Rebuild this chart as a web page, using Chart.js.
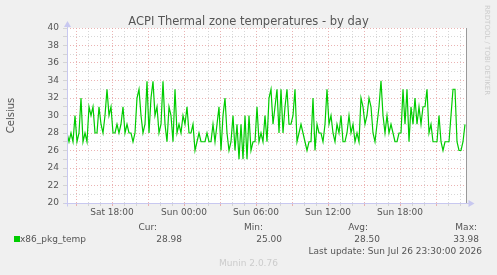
<!DOCTYPE html>
<html>
<head>
<meta charset="utf-8">
<script src="https://cdn.jsdelivr.net/npm/chart.js@4.4.1/dist/chart.umd.min.js"></script>
<style>
  html, body { margin: 0; padding: 0; background: #f0f0f0; }
  #wrap { position: relative; width: 497px; height: 275px; overflow: hidden; }
  #wrap canvas { position: absolute; left: 0; top: 0; }
  .t { position: absolute; font: 9px "DejaVu Sans", sans-serif; line-height: 11px; color: #555; white-space: nowrap; }
  .r { text-align: right; }
  .faint { color: #ccc; }
  #title { position: absolute; left: 0; width: 497px; top: 14px; text-align: center; font: 11.5px "DejaVu Sans", sans-serif; line-height: 14px; color: #555; }
  #swatch { position: absolute; left: 14px; top: 236px; width: 6px; height: 6px; background: #00cc00; }
  #rrd { position: absolute; left: 483px; top: 5px; font: 7px "DejaVu Sans", sans-serif; color: #ccc; writing-mode: vertical-rl; white-space: nowrap; }
</style>
</head>
<body>
<div id="wrap">
  <canvas id="mainChart" width="497" height="275"></canvas>
  <div id="title">ACPI Thermal zone temperatures - by day</div>
  <div id="rrd">RRDTOOL / TOBI OETIKER</div>
  <div class="t r" style="right:340px; top:221.5px;">Cur:</div>
  <div class="t r" style="right:234px; top:221.5px;">Min:</div>
  <div class="t r" style="right:129px; top:221.5px;">Avg:</div>
  <div class="t r" style="right:20px; top:221.5px;">Max:</div>
  <div id="swatch"></div>
  <div class="t" style="left:20px; top:233.5px;">x86_pkg_temp</div>
  <div class="t r" style="right:315px; top:233.5px;">28.98</div>
  <div class="t r" style="right:215px; top:233.5px;">25.00</div>
  <div class="t r" style="right:117px; top:233.5px;">28.50</div>
  <div class="t r" style="right:18px; top:233.5px;">33.98</div>
  <div class="t r" style="right:15px; top:245.5px;">Last update: Sun Jul 26 23:30:00 2026</div>
  <div class="t faint" style="left:0; width:497px; text-align:center; top:257.5px;">Munin 2.0.76</div>
</div>
<script>
// Data: x86_pkg_temp, one reading every 10 minutes from Sat 14:15
const startHour = 14.25;   // hours since Sat 00:00
const stepMinutes = 10;
const tempValues = [
  28, 27, 28, 27, 30, 27, 28, 32, 27, 28,
  27, 31, 30, 31, 28, 28, 31, 29, 28, 30,
  33, 30, 31, 28, 28, 29, 28, 29, 31, 28,
  29, 28, 28, 27, 28, 32, 33, 30, 28, 29,
  33.9, 28, 32, 33.9, 30, 31, 28, 29, 33.9, 29,
  27, 31, 30, 27, 33, 28, 29, 28, 30, 29,
  31, 28, 28, 29, 26, 27, 28, 27, 27, 27,
  28, 27, 27, 29, 27, 29, 31, 26, 30, 32,
  28, 26, 27, 30, 26, 29, 25, 29, 25, 30,
  25, 30, 26, 27, 27, 31, 27, 28, 27, 30,
  27, 32, 33, 29, 31, 33, 28, 33, 28, 31,
  33, 29, 29, 30, 33, 27, 28, 29, 28, 27,
  26, 27, 27, 32, 26, 29, 28, 28, 27, 29,
  33, 29, 30, 28, 27, 29, 28, 30, 27, 27,
  28, 30, 28, 29, 27, 28, 27, 32, 31, 29,
  30, 32, 31, 28, 27, 29, 31, 33.98, 30, 28,
  30, 28, 29, 28, 27, 27, 28, 28, 33, 29,
  33, 27, 31, 29, 32, 29, 31, 29, 31, 31,
  33, 28, 29, 27, 27, 27, 30, 27, 26, 27,
  27, 27, 30, 33, 33, 27, 26, 26, 27, 28.98
];

// Axis ranges and labels
const xMinHour = 14.25;
const xMaxHour = 47.5833;
const xLabelHours = [18, 24, 30, 36, 42];
const xLabels = ['Sat 18:00', 'Sun 00:00', 'Sun 06:00', 'Sun 12:00', 'Sun 18:00'];
const yMin = 20;
const yMax = 40;

const points = tempValues.map((v, i) => ({ x: startHour + i * stepMinutes / 60, y: v }));

const gridHours = [];
for (let h = Math.ceil(xMinHour); h <= Math.floor(xMaxHour); h++) gridHours.push(h);
const gridTemps = [];
for (let v = yMin; v <= yMax; v++) gridTemps.push(v);

const MAJOR = 'rgba(230, 160, 160, 0.8)';
const MINOR = 'rgba(205, 205, 205, 0.8)';
const AXIS = '#c8c8f0';
const FONT = '"DejaVu Sans", sans-serif';

// Plot background, axis arrows and frame
const muninFrame = {
  id: 'muninFrame',
  beforeDraw(chart) {
    const { ctx, chartArea: a } = chart;
    ctx.save();
    ctx.fillStyle = '#fff';
    ctx.fillRect(a.left, a.top, a.right - a.left, a.bottom - a.top);
    ctx.restore();
  },
  afterDatasetsDraw(chart) {
    const { ctx, chartArea: a } = chart;
    const l = Math.round(a.left) + 0.5;
    const b = Math.round(a.bottom) + 0.5;
    const r = Math.round(a.right) - 0.5;
    ctx.save();
    ctx.lineWidth = 1;
    ctx.strokeStyle = '#999';
    ctx.beginPath();
    ctx.moveTo(r, a.top);
    ctx.lineTo(r, a.bottom);
    ctx.stroke();

    ctx.strokeStyle = AXIS;
    ctx.beginPath();
    ctx.moveTo(l, b + 3);
    ctx.lineTo(l, a.top - 2);
    ctx.moveTo(l - 3, b);
    ctx.lineTo(r + 3, b);
    ctx.stroke();

    ctx.fillStyle = AXIS;
    ctx.beginPath();
    ctx.moveTo(l, a.top - 7);
    ctx.lineTo(l - 3.5, a.top - 1);
    ctx.lineTo(l + 3.5, a.top - 1);
    ctx.closePath();
    ctx.fill();
    ctx.beginPath();
    ctx.moveTo(r + 8, b);
    ctx.lineTo(r + 2, b - 3.5);
    ctx.lineTo(r + 2, b + 3.5);
    ctx.closePath();
    ctx.fill();
    ctx.restore();
  }
};

const ctx = document.getElementById('mainChart').getContext('2d');
const chart = new Chart(ctx, {
  type: 'line',
  data: {
    datasets: [{
      label: 'x86_pkg_temp',
      data: points,
      borderColor: '#00cc00',
      borderWidth: 1.2,
      pointRadius: 0,
      tension: 0,
      fill: false
    }]
  },
  options: {
    responsive: false,
    animation: false,
    events: [],
    layout: { padding: { left: 0, right: 30, top: 28, bottom: 52 } },
    plugins: {
      legend: { display: false },
      tooltip: { enabled: false },
      title: { display: false }
    },
    scales: {
      x: {
        type: 'linear',
        min: xMinHour,
        max: xMaxHour,
        afterBuildTicks: s => { s.ticks = gridHours.map(v => ({ value: v })); },
        afterFit: s => { s.height = 20; },
        grid: {
          color: c => (c.tick && c.tick.value % 3 === 0) ? MAJOR : MINOR,
          tickColor: c => (c.tick && c.tick.value % 3 === 0) ? MAJOR : MINOR,
          tickLength: 3,
          tickBorderDash: [],
          lineWidth: 1
        },
        border: { display: false, dash: [1, 2] },
        ticks: {
          autoSkip: false,
          maxRotation: 0,
          padding: 1.5,
          color: '#555',
          font: { family: FONT, size: 9 },
          callback: v => {
            const i = xLabelHours.indexOf(v);
            return i >= 0 ? xLabels[i] : '';
          }
        }
      },
      y: {
        min: yMin,
        max: yMax,
        afterBuildTicks: s => { s.ticks = gridTemps.map(v => ({ value: v })); },
        afterFit: s => { s.width = 67; },
        grid: {
          color: c => (c.tick && c.tick.value % 2 === 0) ? MAJOR : MINOR,
          tickColor: MINOR,
          tickLength: 4,
          tickBorderDash: [],
          lineWidth: 1
        },
        border: { display: false, dash: [1, 2] },
        ticks: {
          autoSkip: false,
          padding: 4,
          color: '#555',
          font: { family: FONT, size: 9 },
          callback: v => (v % 2 === 0 ? String(v) : '')
        },
        title: {
          display: true,
          text: 'Celsius',
          color: '#555',
          font: { family: FONT, size: 10 },
          padding: { top: 5, bottom: 0 }
        }
      }
    }
  },
  plugins: [muninFrame]
});
</script>
</body>
</html>
